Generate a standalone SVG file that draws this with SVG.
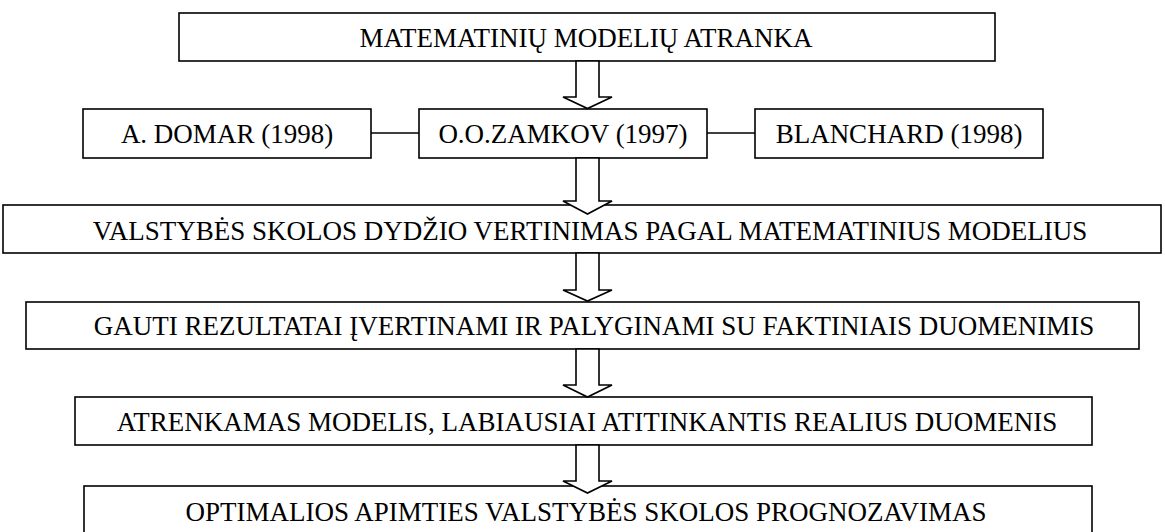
<svg xmlns="http://www.w3.org/2000/svg" width="1165" height="532" viewBox="0 0 1165 532">
<style>
.box{fill:#fff;stroke:#000;stroke-width:1.6}
.arr{fill:#fff;stroke:#000;stroke-width:1.6;stroke-linejoin:miter}
.ln{stroke:#000;stroke-width:1.6;fill:none}
.t{font-family:"Liberation Serif","Times New Roman",serif;font-size:27px;fill:#000;text-anchor:middle}
</style>
<rect width="1165" height="532" fill="#fff"/>
<g id="n1"><rect class="box" x="179" y="13" width="816" height="48"/><text class="t" x="586" y="47">MATEMATINIŲ MODELIŲ ATRANKA</text></g>
<g id="n2"><rect class="box" x="83" y="109" width="288" height="49"/><text class="t" x="227" y="143">A. DOMAR (1998)</text></g>
<g id="n3"><rect class="box" x="419" y="109" width="288" height="49"/><text class="t" x="563" y="143">O.O.ZAMKOV (1997)</text></g>
<g id="n4"><rect class="box" x="755" y="109" width="288" height="49"/><text class="t" x="899" y="143">BLANCHARD (1998)</text></g>
<g id="n5"><rect class="box" x="3" y="205" width="1158" height="48"/><text class="t" x="590" y="240">VALSTYBĖS SKOLOS DYDŽIO VERTINIMAS PAGAL MATEMATINIUS MODELIUS</text></g>
<g id="n6"><rect class="box" x="26" y="302" width="1113" height="47"/><text class="t" x="594" y="335">GAUTI REZULTATAI ĮVERTINAMI IR PALYGINAMI SU FAKTINIAIS DUOMENIMIS</text></g>
<g id="n7"><rect class="box" x="75" y="397" width="1017" height="48"/><text class="t" x="587" y="431">ATRENKAMAS MODELIS, LABIAUSIAI ATITINKANTIS REALIUS DUOMENIS</text></g>
<g id="n8"><rect class="box" x="84" y="486" width="1008" height="50"/><text class="t" x="586" y="521">OPTIMALIOS APIMTIES VALSTYBĖS SKOLOS PROGNOZAVIMAS</text></g>
<g id="connectors">
<line class="ln" x1="371" y1="133" x2="419" y2="133"/>
<line class="ln" x1="707" y1="133" x2="755" y2="133"/>
<polygon class="arr" points="576,61 576,97 563,97 587.5,108.5 612,97 599,97 599,61"/>
<polygon class="arr" points="576,158 576,201 563,201 587.5,214 612,201 599,201 599,158"/>
<polygon class="arr" points="576,253 576,290 563,290 587.5,301 612,290 599,290 599,253"/>
<polygon class="arr" points="576,349 576,385 563,385 587.5,397 612,385 599,385 599,349"/>
<polygon class="arr" points="576,445 576,481 563,481 587.5,493 612,481 599,481 599,445"/>
</g>
</svg>
